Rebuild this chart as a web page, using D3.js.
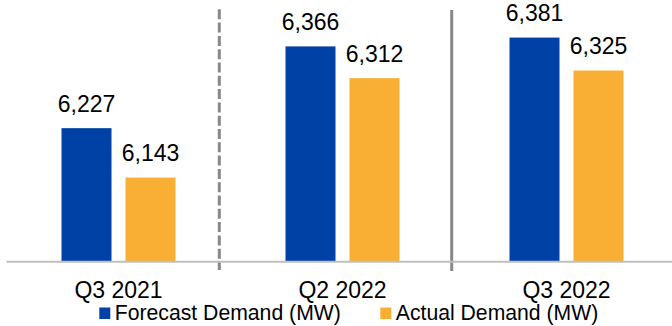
<!DOCTYPE html>
<html><head><meta charset="utf-8">
<script src="https://cdn.jsdelivr.net/npm/d3@7"></script>
<style>body{margin:0;background:#fff}svg{display:block}text{font-family:"Liberation Sans",Arial,sans-serif;fill:#000}</style>
</head><body><svg id="c" width="672" height="326"></svg>
<script>
const categories = ["Q3 2021", "Q2 2022", "Q3 2022"];
const seriesNames = ["Forecast Demand (MW)", "Actual Demand (MW)"];
const forecast = [6227, 6366, 6381];
const actual = [6143, 6312, 6325];
const colors = ["#0041A5", "#F9AF33"];
const yDomain = [6000, 6400];

const svg = d3.select("#c");
const x = d3.scaleBand().domain(categories).range([6.5, 678.5]).paddingInner(0).paddingOuter(0);
const y = d3.scaleLinear().domain(yDomain).range([261.7, 26.4]);
const barW = 50, gap = 14;
const data = categories.map((c, i) => ({c, vals: [forecast[i], actual[i]]}));
const fmt = d3.format(",");

// separators
svg.append("line").attr("x1", x(categories[1]) - 11.2).attr("x2", x(categories[1]) - 11.2)
  .attr("y1", 9.3).attr("y2", 270).attr("stroke", "#888").attr("stroke-width", 3)
  .attr("stroke-dasharray", "10,3.3");
svg.append("line").attr("x1", x(categories[2]) - 2.8).attr("x2", x(categories[2]) - 2.8)
  .attr("y1", 10).attr("y2", 271).attr("stroke", "#888").attr("stroke-width", 3);

// bars
const g = svg.append("g");
data.forEach(d => {
  const cx = x(d.c) + x.bandwidth() / 2;
  d.vals.forEach((v, j) => {
    const bx = j === 0 ? cx - gap / 2 - barW : cx + gap / 2;
    g.append("rect").attr("x", bx).attr("width", barW)
      .attr("y", y(v)).attr("height", y(yDomain[0]) - y(v)).attr("fill", colors[j]);
    g.append("text").attr("x", bx + barW / 2).attr("y", y(v) - 16.5)
      .attr("text-anchor", "middle").attr("font-size", 23).text(fmt(v));
  });
});

// axis
const axis = d3.axisBottom(x).tickSize(0).tickPadding(0);
const ag = svg.append("g").attr("transform", `translate(0,${y(yDomain[0])})`).call(axis);
ag.select(".domain").attr("stroke", "#bfbfbf").attr("stroke-width", 2).attr("d", "M6.5,0H672");
ag.selectAll(".tick text").attr("font-size", 23).attr("dy", 0).attr("y", 36.5)
  .attr("fill", "#000").attr("font-family", '"Liberation Sans",Arial,sans-serif');

// legend
const legX = [99.3, 380.3];
seriesNames.forEach((n, i) => {
  svg.append("rect").attr("x", legX[i]).attr("y", 307.5).attr("width", 11).attr("height", 11.5).attr("fill", colors[i]);
  svg.append("text").attr("x", legX[i] + 15.5).attr("y", 319.7).attr("font-size", 21.2).text(n);
});
</script></body></html>
